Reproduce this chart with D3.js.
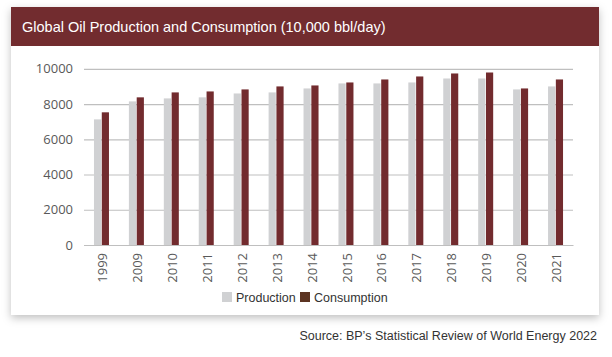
<!DOCTYPE html>
<html><head><meta charset="utf-8">
<script src="https://cdn.jsdelivr.net/npm/d3@7"></script>
<style>
html,body{margin:0;padding:0;background:#fff;}
svg{display:block;}
</style></head>
<body>
<svg id="c" width="612" height="357"></svg>
<script>
const years = ["1999","2009","2010","2011","2012","2013","2014","2015","2016","2017","2018","2019","2020","2021"];
const production = [7130,8150,8320,8380,8600,8660,8885,9170,9170,9225,9450,9450,8830,9000];
const consumption = [7530,8380,8660,8715,8830,9000,9055,9225,9395,9565,9735,9790,8885,9395];
const yTicks = [0,2000,4000,6000,8000,10000];
const seriesNames = ["Production","Consumption"];

const svg = d3.select("#c");
const defs = svg.append("defs");
const f = defs.append("filter").attr("id","sh").attr("x","-10%").attr("y","-10%").attr("width","120%").attr("height","130%");
f.append("feDropShadow").attr("dx",0).attr("dy",3).attr("stdDeviation",4).attr("flood-color","#000").attr("flood-opacity",0.25);

// card
svg.append("rect").attr("x",11).attr("y",7).attr("width",588).attr("height",308).attr("fill","#fff").attr("filter","url(#sh)");
svg.append("rect").attr("x",11).attr("y",7).attr("width",588).attr("height",39).attr("fill","#722C2F");
svg.append("text").attr("x",22).attr("y",31.5).attr("fill","#fff")
  .attr("font-family","Liberation Sans, Arial, sans-serif").attr("font-size",14.5)
  .text("Global Oil Production and Consumption (10,000 bbl/day)");

const x0 = 84, x1 = 573, yBot = 245, yTop = 68.8;
const x = d3.scaleBand().domain(years).range([x0,x1]).paddingInner(0).paddingOuter(0);
const y = d3.scaleLinear().domain([0,10000]).range([yBot,yTop]);
const xs = d3.scaleBand().domain(seriesNames).range([0,15]).paddingInner(0.08);

const tickFont = "Open Sans, Liberation Sans, sans-serif";
const g = svg.append("g");
// gridlines
g.append("g").attr("transform",`translate(${x0},0)`)
  .call(d3.axisLeft(y).tickValues(yTicks).tickSize(-(x1-x0)).tickFormat(""))
  .call(s=>s.select(".domain").remove())
  .call(s=>s.selectAll("line").attr("stroke","#BFBFBF").attr("stroke-width",1.2));
// y labels
g.append("g").attr("transform",`translate(${x0},0)`)
  .call(d3.axisLeft(y).tickValues(yTicks).tickSize(0).tickPadding(11).tickFormat(d3.format("d")))
  .call(s=>s.select(".domain").remove())
  .call(s=>s.selectAll("text").attr("fill","#595959").attr("font-size",13)
    .attr("font-family",tickFont).attr("font-weight",400));

const groups = g.selectAll(".grp").data(years).join("g")
  .attr("transform",d=>`translate(${x(d)+(x.bandwidth()-15)/2},0)`);
groups.append("rect").attr("x",xs("Production")).attr("width",xs.bandwidth())
  .attr("y",(d,i)=>y(production[i])).attr("height",(d,i)=>yBot-y(production[i])).attr("fill","#D0D1D3");
groups.append("rect").attr("x",xs("Consumption")).attr("width",xs.bandwidth())
  .attr("y",(d,i)=>y(consumption[i])).attr("height",(d,i)=>yBot-y(consumption[i])).attr("fill","#722B2E");

// x axis
g.append("g").attr("transform",`translate(0,${yBot})`)
  .call(d3.axisBottom(x).tickSize(0).tickPadding(8))
  .call(s=>s.select(".domain").attr("stroke","#BFBFBF").attr("stroke-width",1.2))
  .call(s=>s.selectAll("text").attr("fill","#595959").attr("font-size",13)
    .attr("font-family",tickFont).attr("font-weight",400)
    .attr("transform","rotate(-90)").attr("text-anchor","end").attr("dy","0.35em").attr("y",1).attr("x",-8));

// legend
const legendColors = ["#D0D1D3","#5C3422"];
const lg = svg.append("g").attr("font-family","Liberation Sans, Arial, sans-serif").attr("font-size",12.5).attr("fill","#333");
const lx = [222,300];
seriesNames.forEach((n,i)=>{
  lg.append("rect").attr("x",lx[i]).attr("y",292).attr("width",10).attr("height",10).attr("fill",legendColors[i]);
  lg.append("text").attr("x",lx[i]+14).attr("y",301.5).text(n);
});

svg.append("text").attr("x",597).attr("y",340).attr("text-anchor","end")
  .attr("font-family","Liberation Sans, Arial, sans-serif").attr("font-size",12.5).attr("fill","#333")
  .text("Source: BP\u2019s Statistical Review of World Energy 2022");
</script>
</body></html>
